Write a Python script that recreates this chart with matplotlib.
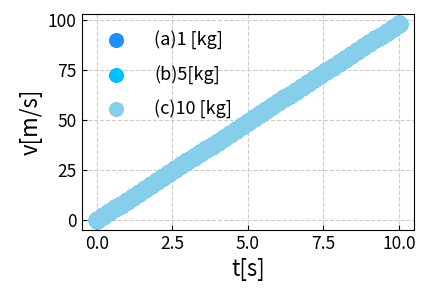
import numpy as np
import matplotlib
matplotlib.use("Agg")
import matplotlib.pyplot as plt

plt.rcParams['font.family'] = ['Noto Sans CJK JP', 'DejaVu Sans']
plt.rcParams['xtick.direction'] = 'in'
plt.rcParams['ytick.direction'] = 'in'

# time [s]
t = [0.0, 0.2, 0.4, 0.6, 0.8, 1.0, 1.2, 1.4, 1.6, 1.8,
     2.0, 2.2, 2.4, 2.6, 2.8, 3.0, 3.2, 3.4, 3.6, 3.8,
     4.0, 4.2, 4.4, 4.6, 4.8, 5.0, 5.2, 5.4, 5.6, 5.8,
     6.0, 6.2, 6.4, 6.6, 6.8, 7.0, 7.2, 7.4, 7.6, 7.8,
     8.0, 8.2, 8.4, 8.6, 8.8, 9.0, 9.2, 9.4, 9.6, 9.8, 10.0]
# velocity [m/s], same for each mass
v = [0.0, 2.0, 3.9, 5.9, 7.8, 9.8, 11.8, 13.7, 15.7, 17.6,
     19.6, 21.6, 23.5, 25.5, 27.4, 29.4, 31.4, 33.3, 35.3, 37.2,
     39.2, 41.2, 43.1, 45.1, 47.0, 49.0, 51.0, 52.9, 54.9, 56.8,
     58.8, 60.8, 62.7, 64.7, 66.6, 68.6, 70.6, 72.5, 74.5, 76.4,
     78.4, 80.4, 82.3, 84.3, 86.2, 88.2, 90.2, 92.1, 94.1, 96.0, 98.0]
v_a = v
v_b = v
v_c = v
labels = ["(a)1 [kg]", "(b)5[kg]", "(c)10 [kg]"]
colors = ["dodgerblue", "deepskyblue", "skyblue"]

fig, ax = plt.subplots(figsize=(4.3, 2.98), dpi=100)
for vals, lab, c in zip([v_a, v_b, v_c], labels, colors):
    ax.scatter(t, vals, s=165, color=c, label=lab, linewidths=0)

ax.set_xlabel("t[s]", fontsize=16)
ax.set_ylabel("v[m/s]", fontsize=16)
ax.tick_params(labelsize=12.5)
ax.set_xticks([0, 2.5, 5, 7.5, 10])
ax.set_yticks([0, 25, 50, 75, 100])
ax.grid(True, linestyle='--', color='#cccccc')
ax.set_axisbelow(True)
ax.legend(frameon=False, fontsize=13, handletextpad=1.1, labelspacing=0.85,
          loc='upper left', borderaxespad=0.5, markerscale=0.85)

fig.subplots_adjust(left=0.19, right=0.963, top=0.953, bottom=0.228)
fig.savefig("out.png")
